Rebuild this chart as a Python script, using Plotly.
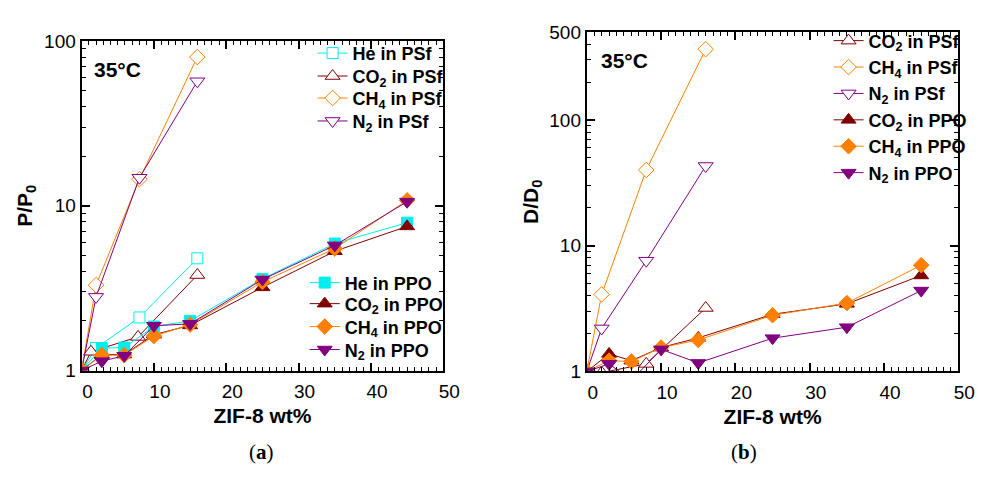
import math
import plotly.graph_objects as go

# ZIF-8 loadings (wt%)
x_psf = [0, 2, 8, 16]
x_psf_co2 = [0, 1.3, 7.8, 16]
x_ppo = [0, 2.8, 5.9, 10, 15, 25, 35, 45]
x_psf_b = [0, 2, 8, 16]
x_ppo_b = [0, 3, 6, 10, 15, 25, 35, 45]

# (a) relative permeability P/P0
p_he_psf = [1, 1.37, 2.1, 4.8]
p_co2_psf = [1, 1.3, 1.6, 3.8]
p_ch4_psf = [1, 3.3, 14.5, 80]
p_n2_psf = [1, 2.8, 14.8, 57]
p_he_ppo = [1, 1.37, 1.38, 1.85, 2.0, 3.6, 5.9, 7.9]
p_co2_ppo = [1, 1.25, 1.25, 1.65, 1.88, 3.2, 5.3, 7.5]
p_ch4_ppo = [1, 1.24, 1.24, 1.62, 1.9, 3.45, 5.5, 10.8]
p_n2_ppo = [1, 1.14, 1.23, 1.87, 1.92, 3.57, 5.75, 10.6]

# (b) relative diffusivity D/D0
d_co2_psf = [1, 0.98, 1.15, 3.2]
d_ch4_psf = [1, 4.1, 40, 365]
d_n2_psf = [1, 2.2, 7.6, 43]
d_co2_ppo = [1, 1.38, 1.22, 1.55, 1.85, 2.85, 3.45, 5.8]
d_ch4_ppo = [1, 1.22, 1.2, 1.55, 1.78, 2.8, 3.5, 7.0]
d_n2_ppo = [1, 1.15, 0.85, 1.5, 1.17, 1.84, 2.25, 4.4]

C_HE = "#00EEEE"
C_CO2 = "#800000"
C_CH4 = "#FF8000"
C_N2 = "#800080"

FONT = "Liberation Sans, Arial, sans-serif"
W, H = 995, 481

fig = go.Figure()


def series(x, y, name, color, symbol, filled, xa, ya, legend, size=10):
    fig.add_trace(go.Scatter(
        x=x, y=y, name=name, mode="lines+markers",
        xaxis=xa, yaxis=ya, legend=legend,
        line=dict(color=color, width=1),
        marker=dict(symbol=symbol, size=size,
                    color=color if filled else "white",
                    line=dict(color=color, width=1)),
    ))


SQ, TRI, DIA = 11, 13, 12

# panel (a): PSf (open) and PPO (filled); one legend box per row
series(x_psf, p_he_psf, "He in PSf", C_HE, "square", False, "x", "y", "legend", SQ)
series(x_psf_co2, p_co2_psf, "CO<sub>2</sub> in PSf", C_CO2, "triangle-up", False, "x", "y", "legend2", TRI)
series(x_psf, p_ch4_psf, "CH<sub>4</sub> in PSf", C_CH4, "diamond", False, "x", "y", "legend3", DIA)
series(x_psf, p_n2_psf, "N<sub>2</sub> in PSf", C_N2, "triangle-down", False, "x", "y", "legend4", TRI)
series(x_ppo, p_he_ppo, "He in PPO", C_HE, "square", True, "x", "y", "legend5", SQ)
series(x_ppo, p_co2_ppo, "CO<sub>2</sub> in PPO", C_CO2, "triangle-up", True, "x", "y", "legend6", TRI)
series(x_ppo, p_ch4_ppo, "CH<sub>4</sub> in PPO", C_CH4, "diamond", True, "x", "y", "legend7", DIA)
series(x_ppo, p_n2_ppo, "N<sub>2</sub> in PPO", C_N2, "triangle-down", True, "x", "y", "legend8", TRI)

# panel (b)
series(x_psf_b, d_co2_psf, "CO<sub>2</sub> in PSf", C_CO2, "triangle-up", False, "x2", "y2", "legend9", TRI)
series(x_psf_b, d_ch4_psf, "CH<sub>4</sub> in PSf", C_CH4, "diamond", False, "x2", "y2", "legend9", DIA)
series(x_psf_b, d_n2_psf, "N<sub>2</sub> in PSf", C_N2, "triangle-down", False, "x2", "y2", "legend9", TRI)
series(x_ppo_b, d_co2_ppo, "CO<sub>2</sub> in PPO", C_CO2, "triangle-up", True, "x2", "y2", "legend9", TRI)
series(x_ppo_b, d_ch4_ppo, "CH<sub>4</sub> in PPO", C_CH4, "diamond", True, "x2", "y2", "legend9", DIA)
series(x_ppo_b, d_n2_ppo, "N<sub>2</sub> in PPO", C_N2, "triangle-down", True, "x2", "y2", "legend9", TRI)


def xaxis(x0, x1, y_anchor):
    return dict(
        domain=[x0 / W, x1 / W], anchor=y_anchor, range=[0, 50],
        tickmode="array", tickvals=[0, 10, 20, 30, 40, 50],
        ticks="inside", ticklen=8, tickwidth=1.5, tickcolor="black",
        minor=dict(tickmode="array", tickvals=[v for v in range(1, 50) if v % 10],
                   ticks="inside", ticklen=4, tickwidth=1, tickcolor="black"),
        showline=True, linecolor="black", linewidth=2, mirror="allticks",
        showgrid=False, zeroline=False,
        tickfont=dict(family=FONT, size=19, color="black"),
        ticklabelshift=6, ticklabelstandoff=3,
        title=dict(text="<b>ZIF-8 wt%</b>", font=dict(family=FONT, size=21, color="black"),
                   standoff=7),
    )


def yaxis(y0, y1, x_anchor, top, vals, minor_vals, title, standoff):
    return dict(
        domain=[1 - y1 / H, 1 - y0 / H], anchor=x_anchor, type="log",
        range=[0, math.log10(top)],
        tickmode="array", tickvals=vals, ticktext=[str(v) for v in vals],
        ticks="inside", ticklen=8, tickwidth=1.5, tickcolor="black",
        minor=dict(tickmode="array", tickvals=minor_vals,
                   ticks="inside", ticklen=4, tickwidth=1, tickcolor="black"),
        showline=True, linecolor="black", linewidth=2, mirror="allticks",
        showgrid=False, zeroline=False,
        tickfont=dict(family=FONT, size=19, color="black"),
        title=dict(text=title, font=dict(family=FONT, size=21, color="black"), standoff=standoff),
    )


minor_a = [m * 10 ** e for e in range(0, 2) for m in range(2, 10)]
minor_b = [m * 10 ** e for e in range(0, 2) for m in range(2, 10)] + [200, 300, 400]


def legend_style(x_px, top_px, size=18):
    return dict(x=x_px / W, y=1 - top_px / H, bgcolor="rgba(0,0,0,0)", borderwidth=0,
                tracegroupgap=0, xanchor="left", yanchor="top", itemwidth=30,
                font=dict(family=FONT, size=size, color="black", weight="bold"))


# legend box tops for the panel (a) entries
tops_psf = [26, 50, 73, 97]
tops_ppo = [266, 288, 312, 336]

legends = {}
for i, t in enumerate(tops_psf):
    legends["legend" if i == 0 else f"legend{i + 1}"] = legend_style(318, t)
for i, t in enumerate(tops_ppo):
    legends[f"legend{i + 5}"] = legend_style(310, t)
legends["legend9"] = legend_style(843, 13)

fig.update_layout(
    width=W, height=H, margin=dict(l=0, r=0, t=0, b=0),
    paper_bgcolor="white", plot_bgcolor="white",
    xaxis=xaxis(83, 451, "y"),
    yaxis=yaxis(32.5, 377, "x", 100, [1, 10, 100], minor_a, "<b>P/P<sub>0</sub></b>", 6),
    xaxis2=xaxis(597, 975, "y2"),
    yaxis2=yaxis(23, 378, "x2", 500, [1, 10, 100, 500], minor_b, "<b>D/D<sub>0</sub></b>", 5),
    showlegend=True,
    **legends,
)

ann_font = dict(family=FONT, size=21, color="black")
fig.add_annotation(text="<b>35°C</b>", x=94 / W, y=1 - 62 / H, xref="paper", yref="paper",
                   xanchor="left", yanchor="middle", showarrow=False, font=ann_font)
fig.add_annotation(text="<b>35°C</b>", x=609 / W, y=1 - 53 / H, xref="paper", yref="paper",
                   xanchor="left", yanchor="middle", showarrow=False, font=ann_font)

cap_font = dict(family="Liberation Serif, serif", size=21, color="black")
fig.add_annotation(text="(<b>a</b>)", x=266 / W, y=1 - 462 / H, xref="paper", yref="paper",
                   xanchor="center", yanchor="middle", showarrow=False, font=cap_font)
fig.add_annotation(text="(<b>b</b>)", x=757 / W, y=1 - 462 / H, xref="paper", yref="paper",
                   xanchor="center", yanchor="middle", showarrow=False, font=cap_font)

fig.write_html("out.html")
